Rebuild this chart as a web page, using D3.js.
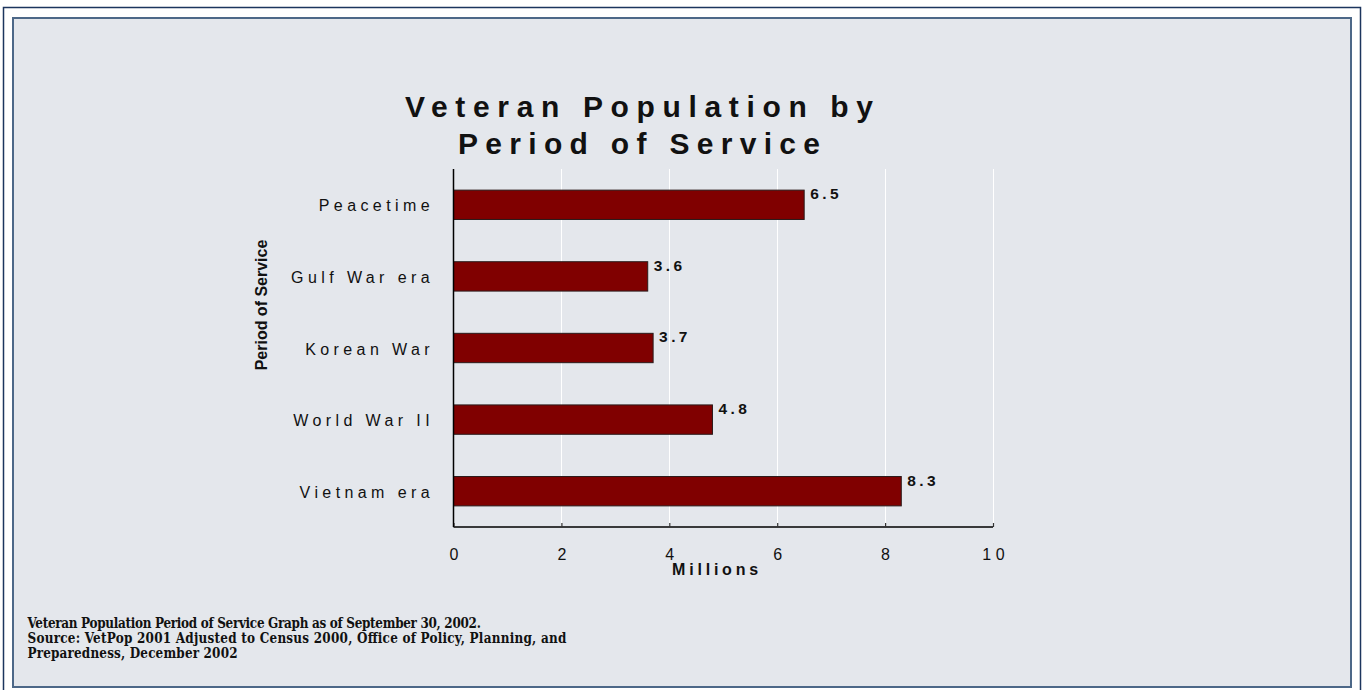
<!DOCTYPE html>
<html>
<head>
<meta charset="utf-8">
<script src="https://cdn.jsdelivr.net/npm/d3@7"></script>
<style>
  html, body { margin: 0; padding: 0; background: #ffffff; }
  svg { display: block; }
</style>
</head>
<body>
<svg id="chart" width="1364" height="690"></svg>
<script>
// Veteran population (millions) by period of service, top to bottom
const categories = ["Peacetime", "Gulf War era", "Korean War", "World War II", "Vietnam era"];
const values = [6.5, 3.6, 3.7, 4.8, 8.3];
const xTicks = [0, 2, 4, 6, 8, 10];

const titleLines = ["Veteran Population by", "Period of Service"];
const xTitle = "Millions";
const yTitle = "Period of Service";
const notes = [
  "Veteran Population Period of Service Graph as of September 30, 2002.",
  "Source: VetPop 2001 Adjusted to Census 2000, Office of Policy, Planning, and",
  "Preparedness, December 2002"
];

const svg = d3.select("#chart");

// Frame: thin outer rule and the shaded panel inside it
svg.append("rect")
  .attr("x", 3.5).attr("y", 7.5).attr("width", 1357).attr("height", 690)
  .attr("fill", "#ffffff").attr("stroke", "#1c355e").attr("stroke-width", 1.5);
svg.append("rect")
  .attr("x", 13).attr("y", 18).attr("width", 1338).attr("height", 669)
  .attr("fill", "#e4e7ec").attr("stroke", "#4d6888").attr("stroke-width", 2);

const plot = { left: 453.5, right: 993, top: 169, bottom: 527 };

const x = d3.scaleLinear().domain([0, 10]).range([plot.left, plot.right]);
const y = d3.scaleBand().domain(categories).range([plot.top, plot.bottom]).paddingInner(0.59).paddingOuter(0.295);

const font = "Arial, 'Liberation Sans', Helvetica, sans-serif";

// Vertical gridlines
svg.append("g")
  .selectAll("line")
  .data(xTicks.filter(d => d > 0))
  .join("line")
  .attr("x1", d => Math.round(x(d)) + 0.5).attr("x2", d => Math.round(x(d)) + 0.5)
  .attr("y1", plot.top).attr("y2", plot.bottom)
  .attr("stroke", "#ffffff").attr("stroke-width", 1);

const rows = categories.map((c, i) => ({ c, v: values[i] }));

// Bars
svg.append("g")
  .selectAll("rect")
  .data(rows)
  .join("rect")
  .attr("x", x(0))
  .attr("y", d => y(d.c))
  .attr("width", d => x(d.v) - x(0))
  .attr("height", y.bandwidth())
  .attr("fill", "#800000")
  .attr("stroke", "#2a1a1a").attr("stroke-width", 1);

// Value labels beside each bar end
svg.append("g")
  .selectAll("text")
  .data(rows)
  .join("text")
  .attr("x", d => x(d.v) + 6)
  .attr("y", d => y(d.c) + 9)
  .attr("font-family", font).attr("font-size", 15.5).attr("font-weight", "bold")
  .attr("letter-spacing", "3.4px")
  .attr("fill", "#111")
  .text(d => d3.format(".1f")(d.v));

// X axis: baseline, inward ticks, spaced labels
const xAxis = d3.axisBottom(x).tickValues(xTicks).tickSize(-4).tickPadding(22).tickFormat(d3.format("d"));
const gx = svg.append("g").attr("transform", `translate(0,${plot.bottom})`).call(xAxis);
gx.select(".domain").attr("stroke", "#000").attr("stroke-width", 1.5).attr("d", `M${plot.left},0H${plot.right}`);
gx.selectAll(".tick line").attr("stroke", "#333").attr("stroke-width", 1.2);
gx.selectAll(".tick text")
  .attr("font-family", font).attr("font-size", 16).attr("fill", "#111")
  .attr("letter-spacing", "4.5px")
  .attr("dx", "2.2px");

// Y axis line and category labels
svg.append("line")
  .attr("x1", plot.left).attr("x2", plot.left)
  .attr("y1", plot.top).attr("y2", plot.bottom)
  .attr("stroke", "#000").attr("stroke-width", 1.5);

svg.append("g")
  .selectAll("text")
  .data(categories)
  .join("text")
  .attr("x", 434)
  .attr("y", d => y(d) + y.bandwidth() / 2 + 6.5)
  .attr("text-anchor", "end")
  .attr("font-family", font).attr("font-size", 16).attr("fill", "#111")
  .attr("letter-spacing", "4.4px")
  .text(d => d);

// Axis titles
svg.append("text")
  .attr("x", 717).attr("y", 575)
  .attr("text-anchor", "middle")
  .attr("font-family", font).attr("font-size", 16).attr("font-weight", "bold")
  .attr("letter-spacing", "3.8px").attr("fill", "#111")
  .text(xTitle);

svg.append("text")
  .attr("transform", "translate(266.5,305) rotate(-90)")
  .attr("text-anchor", "middle")
  .attr("font-family", font).attr("font-size", 16).attr("font-weight", "bold")
  .attr("fill", "#111")
  .text(yTitle);

// Chart title, widely tracked
const titleSpan = [[405, 873, 116.5], [458, 820, 154]];
titleLines.forEach((t, i) => {
  const [x0, x1, by] = titleSpan[i];
  svg.append("text")
    .attr("x", x0).attr("y", by)
    .attr("textLength", x1 - x0).attr("lengthAdjust", "spacing")
    .attr("font-family", font).attr("font-size", 30).attr("font-weight", "bold")
    .attr("fill", "#111")
    .text(t);
});

// Source notes: condensed bold serif with one common horizontal squeeze,
// plus gentle per-line tracking toward each line's end point
const noteLeft = 27.5;
const noteBaselines = [628.3, 643.3, 658.3];
const noteRight = [460, 583, 241.7];
const noteG = svg.append("g");
const noteTexts = notes.map((t, i) => noteG.append("text")
  .attr("x", 0).attr("y", noteBaselines[i])
  .attr("font-family", "'DejaVu Serif Condensed', 'DejaVu Serif', serif")
  .attr("font-stretch", "condensed")
  .attr("font-size", 14).attr("font-weight", "bold")
  .attr("fill", "#111")
  .text(t));
const natural = noteTexts.map(s => s.node().getComputedTextLength());
const targets = noteRight.map(r => r - noteLeft);
const squeeze = d3.sum(targets) / d3.sum(natural);
noteG.attr("transform", `translate(${noteLeft},0) scale(${squeeze},1)`);
noteTexts.forEach((s, i) => {
  const plain = natural[i] * squeeze;
  const len = plain + 0.5 * (targets[i] - plain);
  s.attr("textLength", len / squeeze).attr("lengthAdjust", "spacing");
});
</script>
</body>
</html>
